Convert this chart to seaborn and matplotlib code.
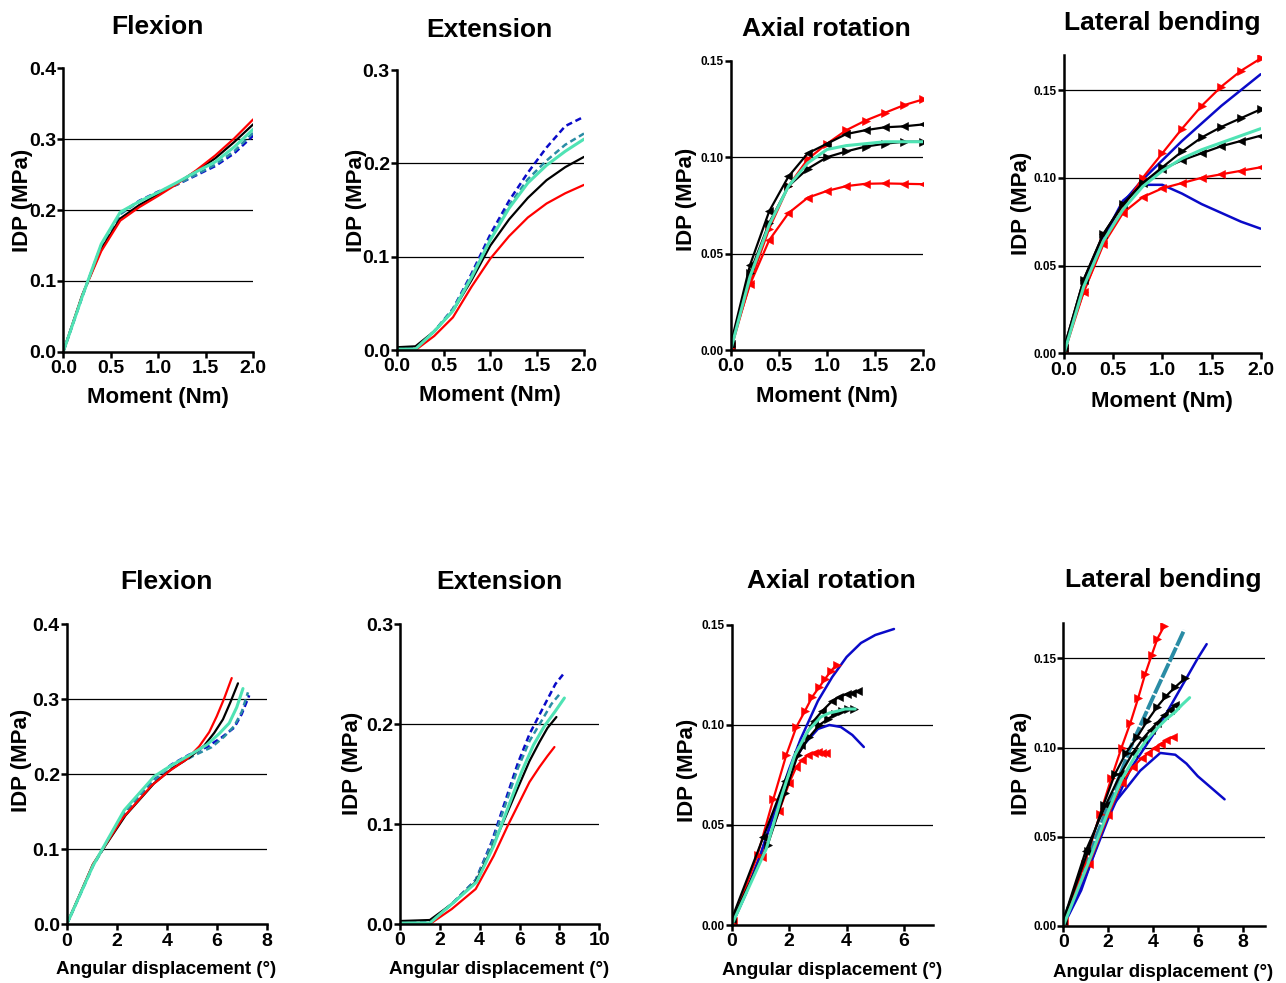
import matplotlib
matplotlib.use("Agg")
import matplotlib.pyplot as plt
from matplotlib.ticker import FormatStrFormatter
import seaborn as sns

# moment steps used for the top row (Nm)
moment = [0.0, 0.2, 0.4, 0.6, 0.8, 1.0, 1.2, 1.4, 1.6, 1.8, 2.0]
moment_rev = [2.0, 1.8, 1.6, 1.4, 1.2, 1.0, 0.8, 0.6, 0.4, 0.2, 0.0]

# ---- Flexion, IDP (MPa)
flex_red = [0, 0.080, 0.142, 0.185, 0.204, 0.220, 0.237, 0.256, 0.277, 0.301, 0.328]
flex_black = [0, 0.080, 0.145, 0.188, 0.207, 0.222, 0.238, 0.255, 0.273, 0.296, 0.321]
flex_blue = [0, 0.078, 0.150, 0.195, 0.213, 0.226, 0.236, 0.249, 0.262, 0.280, 0.305]
flex_teal = [0, 0.078, 0.150, 0.194, 0.212, 0.225, 0.236, 0.250, 0.264, 0.283, 0.309]
flex_green = [0, 0.078, 0.152, 0.197, 0.212, 0.225, 0.239, 0.254, 0.268, 0.289, 0.314]
# flexion angles (deg)
flex_red_deg = [0, 1.05, 2.25, 3.4, 4.1, 4.8, 5.3, 5.7, 6.0, 6.3, 6.6]
flex_black_deg = [0, 1.05, 2.35, 3.5, 4.2, 4.9, 5.5, 5.9, 6.25, 6.55, 6.85]
flex_blue_deg = [0, 1.05, 2.3, 3.5, 4.2, 4.9, 5.6, 6.2, 6.7, 7.0, 7.3]
flex_teal_deg = [0, 1.05, 2.35, 3.6, 4.4, 5.1, 5.8, 6.3, 6.7, 7.0, 7.25]
flex_green_deg = [0, 1.05, 2.3, 3.5, 4.2, 4.9, 5.6, 6.1, 6.5, 6.8, 7.05]

# ---- Extension
ext_red = [0, 0, 0.015, 0.035, 0.068, 0.098, 0.122, 0.142, 0.157, 0.168, 0.177]
ext_black = [0.003, 0.004, 0.020, 0.042, 0.075, 0.112, 0.140, 0.163, 0.182, 0.196, 0.207]
ext_blue = [0.002, 0.002, 0.020, 0.044, 0.082, 0.124, 0.160, 0.190, 0.217, 0.240, 0.250]
ext_teal = [0.002, 0.002, 0.020, 0.044, 0.080, 0.120, 0.155, 0.183, 0.203, 0.220, 0.232]
ext_green = [0.001, 0.001, 0.020, 0.042, 0.078, 0.118, 0.152, 0.179, 0.198, 0.213, 0.226]
ext_red_deg = [0, 1.5, 2.6, 3.8, 4.7, 5.4, 6.0, 6.5, 7.0, 7.4, 7.75]
ext_black_deg = [0, 1.5, 2.6, 3.8, 4.6, 5.4, 6.0, 6.5, 7.0, 7.4, 7.85]
ext_blue_deg = [0, 1.5, 2.6, 3.8, 4.6, 5.3, 5.9, 6.5, 7.2, 7.8, 8.2]
ext_teal_deg = [0, 1.5, 2.6, 3.8, 4.6, 5.3, 5.9, 6.5, 7.1, 7.6, 8.1]
ext_green_deg = [0, 1.5, 2.6, 3.85, 4.7, 5.45, 6.1, 6.7, 7.25, 7.8, 8.25]

# ---- Axial rotation (load = increasing moment, unload = reversed)
ax_red_load = [0, 0.035, 0.063, 0.085, 0.099, 0.107, 0.114, 0.119, 0.123, 0.127, 0.130]
ax_red_unload = [0.086, 0.0862, 0.0864, 0.0862, 0.085, 0.0825, 0.079, 0.071, 0.057, 0.034, 0.002]
ax_black_unload = [0.117, 0.116, 0.1155, 0.114, 0.112, 0.107, 0.102, 0.090, 0.072, 0.044, 0.003]
ax_black_load = [0.002, 0.040, 0.066, 0.085, 0.094, 0.100, 0.103, 0.1055, 0.107, 0.108, 0.108]
ax_green = [0, 0.038, 0.065, 0.085, 0.097, 0.104, 0.106, 0.107, 0.108, 0.108, 0.108]
ax_red_load_deg = [0, 0.9, 1.45, 1.9, 2.25, 2.55, 2.8, 3.05, 3.25, 3.45, 3.65]
ax_red_unload_deg = [3.28, 3.15, 3.0, 2.85, 2.65, 2.45, 2.25, 2.0, 1.65, 1.05, 0.05]
ax_black_unload_deg = [4.4, 4.2, 4.0, 3.75, 3.5, 3.15, 2.85, 2.4, 1.85, 1.1, 0]
ax_black_load_deg = [0, 1.25, 1.85, 2.3, 2.7, 3.05, 3.35, 3.6, 3.85, 4.05, 4.25]
ax_green_deg = [0, 1.2, 1.75, 2.2, 2.65, 3.1, 3.4, 3.7, 3.95, 4.15, 4.3]
ax_blue_up_deg = [0, 0.5, 1.0, 1.5, 2.0, 2.4, 3.0, 3.5, 4.0, 4.5, 5.0, 5.65]
ax_blue_up = [0, 0.016, 0.035, 0.057, 0.078, 0.093, 0.112, 0.124, 0.134, 0.141, 0.145, 0.148]
ax_blue_low_deg = [0, 0.5, 1.0, 1.5, 2.0, 2.5, 3.0, 3.4, 3.8, 4.2, 4.6]
ax_blue_low = [0, 0.016, 0.035, 0.057, 0.077, 0.090, 0.098, 0.100, 0.099, 0.095, 0.089]

# ---- Lateral bending
lb_red_load = [0, 0.035, 0.063, 0.083, 0.100, 0.114, 0.128, 0.141, 0.152, 0.161, 0.168]
lb_red_unload = [0.106, 0.104, 0.102, 0.100, 0.097, 0.094, 0.089, 0.080, 0.062, 0.035, 0.003]
lb_black_load = [0.003, 0.042, 0.068, 0.085, 0.097, 0.106, 0.115, 0.123, 0.129, 0.134, 0.139]
lb_black_unload = [0.124, 0.121, 0.118, 0.114, 0.110, 0.105, 0.097, 0.085, 0.068, 0.042, 0.003]
lb_blue_up = [0, 0.040, 0.066, 0.086, 0.099, 0.110, 0.121, 0.131, 0.141, 0.150, 0.159]
lb_blue_low = [0, 0.040, 0.066, 0.087, 0.096, 0.096, 0.091, 0.085, 0.080, 0.075, 0.071]
lb_green = [0, 0.038, 0.064, 0.082, 0.095, 0.104, 0.111, 0.116, 0.120, 0.124, 0.128]
lb_red_load_deg = [0, 0.95, 1.65, 2.15, 2.6, 3.0, 3.35, 3.65, 3.95, 4.2, 4.5]
lb_red_unload_deg = [4.9, 4.6, 4.35, 4.1, 3.8, 3.5, 3.1, 2.6, 2.0, 1.15, 0.05]
lb_black_load_deg = [0, 1.1, 1.8, 2.3, 2.8, 3.3, 3.75, 4.2, 4.6, 5.0, 5.45]
lb_black_unload_deg = [5.0, 4.75, 4.5, 4.2, 3.9, 3.55, 3.1, 2.55, 1.9, 1.0, 0]
lb_green_deg = [0, 1.2, 2.0, 2.6, 3.2, 3.7, 4.2, 4.6, 5.0, 5.3, 5.64]
lb_blue_up_deg = [0, 1.0, 2.0, 3.0, 4.0, 4.5, 5.0, 5.5, 6.0, 6.4]
lb_blue_up_b = [0, 0.028, 0.060, 0.088, 0.107, 0.117, 0.128, 0.139, 0.150, 0.158]
lb_blue_low_deg = [0, 0.8, 1.64, 2.1, 2.8, 3.43, 4.33, 5.0, 5.5, 6.0, 7.2]
lb_blue_low_b = [0, 0.020, 0.050, 0.066, 0.077, 0.087, 0.097, 0.096, 0.091, 0.084, 0.071]
lb_teal_deg = [0, 1.0, 2.0, 3.0, 4.0, 4.7, 5.4]
lb_teal = [0.003, 0.035, 0.067, 0.100, 0.128, 0.147, 0.166]

RED = "#FF0000"
BLACK = "#000000"
BLUE = "#0A0AC8"
TEAL = "#2A8CA5"
GREEN = "#4FE3B4"

sns.set_theme(style="ticks")
plt.rcParams["font.family"] = ["Liberation Sans", "DejaVu Sans"]
plt.rcParams["font.weight"] = "bold"
plt.rcParams["axes.labelweight"] = "bold"
plt.rcParams["text.color"] = "black"
plt.rcParams["axes.labelcolor"] = "black"

fig = plt.figure(figsize=(12.86, 9.83), dpi=100)


def line(ax, x, y, color, ls="-", lw=1.6, marker=None):
    sns.lineplot(x=x, y=y, ax=ax, color=color, linestyle=ls, linewidth=lw,
                 marker=marker, markersize=6, markeredgewidth=0.4,
                 markeredgecolor=color, sort=False, estimator=None,
                 legend=False)


def style(ax, xlim, ylim, xticks, yticks, xfmt, yfmt, ysize, title, xlabel,
          xlab_size, title_y, ylab_x, ylab_y, xlab_y):
    ax.set_xlim(*xlim)
    ax.set_ylim(*ylim)
    ax.set_xticks(xticks)
    ax.set_yticks(yticks)
    ax.xaxis.set_major_formatter(FormatStrFormatter(xfmt))
    ax.yaxis.set_major_formatter(FormatStrFormatter(yfmt))
    for t in yticks:
        if 0 < t < ylim[1] - 1e-9:
            ax.axhline(t, color="black", lw=0.9, zorder=0.5)
    sns.despine(ax=ax)
    for s in ("left", "bottom"):
        ax.spines[s].set_linewidth(1.8)
        ax.spines[s].set_color("black")
    ax.tick_params(axis="x", labelsize=14, length=4, width=1.8, pad=2,
                   color="black", labelcolor="black")
    ax.tick_params(axis="y", labelsize=ysize, length=4, width=1.8, pad=1,
                   color="black", labelcolor="black")
    for lab in ax.get_xticklabels() + ax.get_yticklabels():
        lab.set_fontweight("bold")
    ax.set_ylabel("IDP (MPa)", fontsize=16, fontweight="bold", color="black")
    ax.yaxis.label.set_va("center")
    ax.yaxis.set_label_coords(ylab_x, ylab_y)
    ax.set_xlabel(xlabel, fontsize=xlab_size, fontweight="bold", color="black")
    ax.xaxis.label.set_va("center")
    ax.xaxis.set_label_coords(0.497, xlab_y)
    ax.text(0.497, title_y, title, transform=ax.transAxes, ha="center",
            va="center", fontsize=19, fontweight="bold", color="black")
    ax.set_facecolor("white")


# ---------------- top row: moment
a1 = fig.add_axes([0.0492, 0.6422, 0.1477, 0.2883])
line(a1, moment, flex_blue, BLUE, ls=(0, (2.5, 1.5)), lw=1.8)
line(a1, moment, flex_teal, TEAL, ls=(0, (2.5, 1.5)), lw=1.8)
line(a1, moment, flex_black, BLACK)
line(a1, moment, flex_red, RED)
line(a1, moment, flex_green, GREEN, lw=2.2)
style(a1, (0, 2), (0, 0.4), [0, 0.5, 1, 1.5, 2], [0, 0.1, 0.2, 0.3, 0.4],
      "%.1f", "%.1f", 14, "Flexion", "Moment (Nm)", 16, 1.146, -0.216, 0.535, -0.16)

a2 = fig.add_axes([0.3085, 0.6439, 0.1456, 0.2848])
line(a2, moment, ext_blue, BLUE, ls=(0, (2.5, 1.5)), lw=1.8)
line(a2, moment, ext_teal, TEAL, ls=(0, (2.5, 1.5)), lw=1.8)
line(a2, moment, ext_black, BLACK)
line(a2, moment, ext_red, RED)
line(a2, moment, ext_green, GREEN, lw=2.2)
style(a2, (0, 2), (0, 0.3), [0, 0.5, 1, 1.5, 2], [0, 0.1, 0.2, 0.3],
      "%.1f", "%.1f", 14, "Extension", "Moment (Nm)", 16, 1.143, -0.214, 0.536, -0.161)

a3 = fig.add_axes([0.5682, 0.6439, 0.1498, 0.2943])
line(a3, moment, ax_red_load, RED, marker=">")
line(a3, moment_rev, ax_red_unload, RED, marker="<")
line(a3, moment_rev, ax_black_unload, BLACK, marker="<")
line(a3, moment, ax_black_load, BLACK, marker=">")
line(a3, moment, ax_green, GREEN, lw=2.2)
style(a3, (0, 2), (0, 0.15), [0, 0.5, 1, 1.5, 2], [0, 0.05, 0.10, 0.15],
      "%.1f", "%.2f", 8.5, "Axial rotation", "Moment (Nm)", 16, 1.11, -0.23, 0.52, -0.159)

a4 = fig.add_axes([0.8274, 0.6406, 0.1529, 0.3035])
line(a4, moment, lb_blue_up, BLUE, lw=1.8)
line(a4, moment, lb_blue_low, BLUE, lw=1.8)
line(a4, moment, lb_red_load, RED, marker=">")
line(a4, moment_rev, lb_red_unload, RED, marker="<")
line(a4, moment, lb_black_load, BLACK, marker=">")
line(a4, moment_rev, lb_black_unload, BLACK, marker="<")
line(a4, moment, lb_green, GREEN, lw=2.2)
style(a4, (0, 2), (0, 0.17), [0, 0.5, 1, 1.5, 2], [0, 0.05, 0.10, 0.15],
      "%.1f", "%.2f", 8.5, "Lateral bending", "Moment (Nm)", 16, 1.107, -0.215, 0.502, -0.16)

# ---------------- bottom row: angular displacement
a5 = fig.add_axes([0.0519, 0.0597, 0.1555, 0.3055])
line(a5, flex_blue_deg, flex_blue, BLUE, ls=(0, (2.5, 1.5)), lw=1.8)
line(a5, flex_teal_deg, flex_teal, TEAL, ls=(0, (2.5, 1.5)), lw=1.8)
line(a5, flex_black_deg, flex_black, BLACK)
line(a5, flex_red_deg, flex_red, RED)
line(a5, flex_green_deg, flex_green, GREEN, lw=2.2)
style(a5, (0, 8), (0, 0.4), [0, 2, 4, 6, 8], [0, 0.1, 0.2, 0.3, 0.4],
      "%d", "%.1f", 14, "Flexion", "Angular displacement (°)", 13.5, 1.14, -0.225, 0.547, -0.149)

a6 = fig.add_axes([0.3110, 0.0600, 0.1550, 0.3052])
line(a6, ext_blue_deg, ext_blue, BLUE, ls=(0, (2.5, 1.5)), lw=1.8)
line(a6, ext_teal_deg, ext_teal, TEAL, ls=(0, (2.5, 1.5)), lw=1.8)
line(a6, ext_black_deg, ext_black, BLACK)
line(a6, ext_red_deg, ext_red, RED)
line(a6, ext_green_deg, ext_green, GREEN, lw=2.2)
style(a6, (0, 10), (0, 0.3), [0, 2, 4, 6, 8, 10], [0, 0.1, 0.2, 0.3],
      "%d", "%.1f", 14, "Extension", "Angular displacement (°)", 13.5, 1.14, -0.24, 0.535, -0.153)

a7 = fig.add_axes([0.5690, 0.0590, 0.1563, 0.3052])
line(a7, ax_blue_up_deg, ax_blue_up, BLUE, lw=1.8)
line(a7, ax_blue_low_deg, ax_blue_low, BLUE, lw=1.8)
line(a7, ax_red_load_deg, ax_red_load, RED, marker=">")
line(a7, ax_red_unload_deg, ax_red_unload, RED, marker="<")
line(a7, ax_black_unload_deg, ax_black_unload, BLACK, marker="<")
line(a7, ax_black_load_deg, ax_black_load, BLACK, marker=">")
line(a7, ax_green_deg, ax_green, GREEN, lw=2.2)
style(a7, (0, 7), (0, 0.15), [0, 2, 4, 6], [0, 0.05, 0.10, 0.15],
      "%d", "%.2f", 8.5, "Axial rotation", "Angular displacement (°)", 13.5, 1.147, -0.218, 0.517, -0.153)

a8 = fig.add_axes([0.8268, 0.0580, 0.1568, 0.3085])
line(a8, lb_blue_up_deg, lb_blue_up_b, BLUE, lw=1.8)
line(a8, lb_blue_low_deg, lb_blue_low_b, BLUE, lw=1.8)
line(a8, lb_teal_deg, lb_teal, TEAL, ls=(0, (4, 0.5)), lw=2.8)
line(a8, lb_red_load_deg, lb_red_load, RED, marker=">")
line(a8, lb_red_unload_deg, lb_red_unload, RED, marker="<")
line(a8, lb_black_load_deg, lb_black_load, BLACK, marker=">")
line(a8, lb_black_unload_deg, lb_black_unload, BLACK, marker="<")
line(a8, lb_green_deg, lb_green, GREEN, lw=2.2)
style(a8, (0, 9), (0, 0.17), [0, 2, 4, 6, 8], [0, 0.05, 0.10, 0.15],
      "%d", "%.2f", 8.5, "Lateral bending", "Angular displacement (°)", 13.5, 1.14, -0.206, 0.537, -0.152)

fig.savefig("out.png", dpi=100, facecolor="white")
